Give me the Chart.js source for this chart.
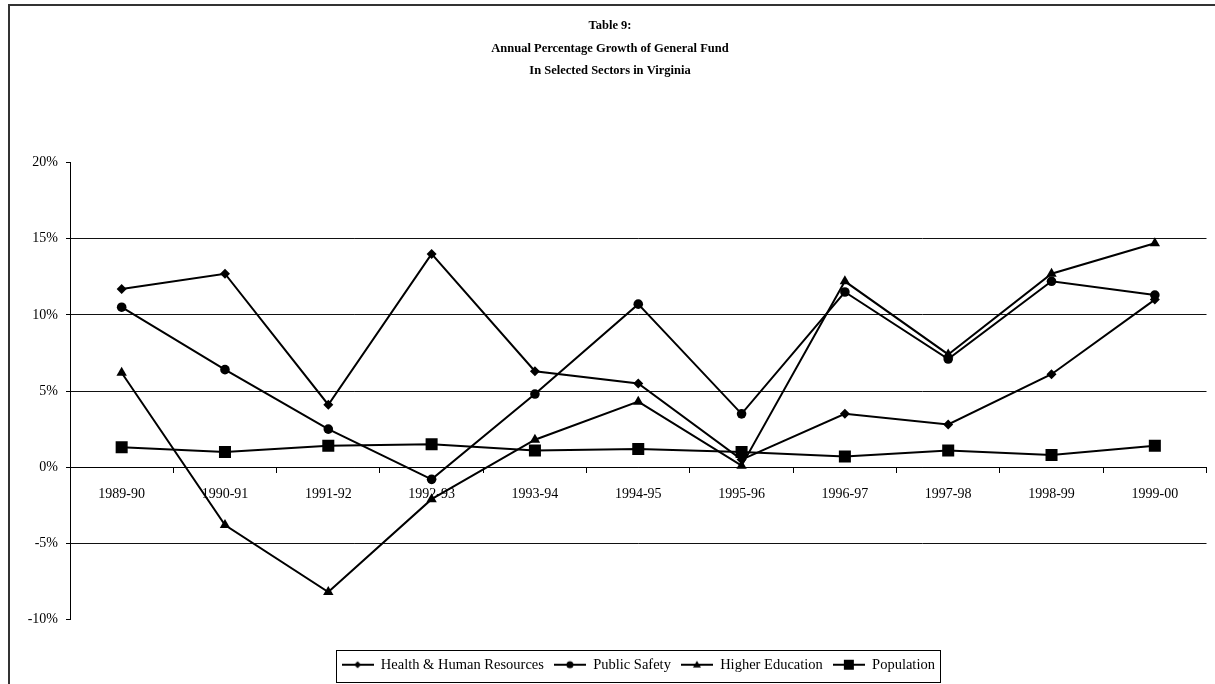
<!DOCTYPE html>
<html><head><meta charset="utf-8">
<script src="https://cdn.jsdelivr.net/npm/chart.js@4.4.0/dist/chart.umd.min.js"></script>
<style>html,body{margin:0;padding:0;background:#fff;} canvas{display:block;}</style>
</head><body>
<canvas id="c" width="1215" height="684"></canvas>
<script>
const categories = ['1989-90','1990-91','1991-92','1992-93','1993-94','1994-95','1995-96','1996-97','1997-98','1998-99','1999-00'];
const healthHuman = [11.7, 12.7, 4.1, 14.0, 6.3, 5.5, 0.5, 3.5, 2.8, 6.1, 11.0];
const publicSafety = [10.5, 6.4, 2.5, -0.8, 4.8, 10.7, 3.5, 11.5, 7.1, 12.2, 11.3];
const higherEducation = [6.2, -3.8, -8.2, -2.1, 1.8, 4.3, 0.1, 12.2, 7.4, 12.7, 14.7];
const population = [1.3, 1.0, 1.4, 1.5, 1.1, 1.2, 1.0, 0.7, 1.1, 0.8, 1.4];
const seriesNames = ['Health & Human Resources', 'Public Safety', 'Higher Education', 'Population'];
const titleLines = ['Table 9:', 'Annual Percentage Growth of General Fund', 'In Selected Sectors in Virginia'];
const yTicks = [-10, -5, 0, 5, 10, 15, 20];

const FONT = "'Liberation Serif', 'Times New Roman', serif";

function legendIcon(style, r) {
  const c = document.createElement('canvas');
  c.width = 32; c.height = 14;
  const g = c.getContext('2d');
  g.strokeStyle = '#000'; g.lineWidth = 2;
  g.beginPath(); g.moveTo(0, 7); g.lineTo(32, 7); g.stroke();
  g.fillStyle = '#000';
  const x = 16, y = 7;
  g.beginPath();
  if (style === 'rectRot') {
    g.moveTo(x, y - r); g.lineTo(x + r, y); g.lineTo(x, y + r); g.lineTo(x - r, y); g.closePath();
  } else if (style === 'circle') {
    g.arc(x, y, r, 0, Math.PI * 2);
  } else if (style === 'triangle') {
    g.moveTo(x, y - r); g.lineTo(x + r, y + r * 0.7); g.lineTo(x - r, y + r * 0.7); g.closePath();
  } else {
    g.rect(x - r, y - r, 2 * r, 2 * r);
  }
  g.fill();
  return c;
}

const styles = [
  {pointStyle: 'rectRot', radius: 5, icon: legendIcon('rectRot', 3.5)},
  {pointStyle: 'circle', radius: 4.8, icon: legendIcon('circle', 3.5)},
  {pointStyle: 'triangle', radius: 6, icon: legendIcon('triangle', 4)},
  {pointStyle: 'rect', radius: 8.5, icon: legendIcon('rect', 5)}
];
const values = [healthHuman, publicSafety, higherEducation, population];

const frame = {
  id: 'frame',
  beforeDraw(chart) {
    const ctx = chart.ctx;
    ctx.save();
    ctx.fillStyle = '#fff';
    ctx.fillRect(0, 0, chart.width, chart.height);
    ctx.strokeStyle = '#333';
    ctx.lineWidth = 2;
    ctx.beginPath();
    ctx.moveTo(9, chart.height);
    ctx.lineTo(9, 5);
    ctx.lineTo(chart.width, 5);
    ctx.stroke();
    ctx.restore();
  },
  afterDraw(chart) {
    const hb = chart.legend && chart.legend.legendHitBoxes;
    if (!hb || !hb.length) return;
    let l = Infinity, r = -Infinity, t = Infinity, b = -Infinity;
    hb.forEach(h => { l = Math.min(l, h.left); r = Math.max(r, h.left + h.width); t = Math.min(t, h.top); b = Math.max(b, h.top + h.height); });
    const ctx = chart.ctx;
    ctx.save();
    ctx.strokeStyle = '#000';
    ctx.lineWidth = 1;
    ctx.strokeRect(Math.round(l - 6) + 0.5, Math.round(t - 8) + 0.5, Math.round(r - l + 11), Math.round(b - t + 17));
    ctx.restore();
  }
};

new Chart(document.getElementById('c'), {
  type: 'line',
  data: {
    labels: categories,
    datasets: values.map((v, i) => ({
      label: seriesNames[i],
      data: v,
      borderColor: '#000',
      backgroundColor: '#000',
      borderWidth: 2,
      pointStyle: styles[i].pointStyle,
      pointRadius: styles[i].radius,
      pointBackgroundColor: '#000',
      pointBorderColor: '#000',
      pointBorderWidth: 0,
      tension: 0,
      fill: false
    }))
  },
  options: {
    responsive: false,
    animation: false,
    devicePixelRatio: 1,
    layout: {padding: {left: 10, right: 5, top: 0, bottom: 2}},
    plugins: {
      title: {
        display: true,
        text: titleLines,
        color: '#000',
        font: {family: FONT, size: 12.5, weight: 'bold', lineHeight: 1.8},
        padding: {top: 15, bottom: 80}
      },
      legend: {
        display: true,
        position: 'bottom',
        fullSize: false,
        align: 'center',
        labels: {
          usePointStyle: true,
          pointStyleWidth: 32,
          padding: 10,
          color: '#000',
          font: {family: FONT, size: 14.5},
          generateLabels: (chart) => chart.data.datasets.map((ds, i) => ({
            text: ds.label,
            pointStyle: styles[i].icon,
            fillStyle: '#000',
            strokeStyle: '#000',
            lineWidth: 0,
            hidden: false,
            datasetIndex: i
          }))
        }
      },
      tooltip: {enabled: false}
    },
    scales: {
      x: {
        type: 'category',
        position: {y: 0},
        offset: true,
        grid: {display: true, drawOnChartArea: false, offset: true, tickLength: 5, color: '#000', lineWidth: 1},
        border: {display: true, color: '#000', width: 1},
        ticks: {color: '#000', font: {family: FONT, size: 14}, padding: 14, maxRotation: 0, autoSkip: false}
      },
      y: {
        min: yTicks[0],
        max: yTicks[yTicks.length - 1],
        afterBuildTicks: (s) => { s.ticks = yTicks.map(v => ({value: v})); },
        ticks: {color: '#000', font: {family: FONT, size: 14}, padding: 8, callback: v => v + '%'},
        grid: {
          color: (c) => (c.tick && (c.tick.value === 20 || c.tick.value === -10)) ? 'rgba(0,0,0,0)' : '#111',
          tickColor: '#000', tickLength: 4, lineWidth: 1
        },
        border: {display: true, color: '#000', width: 1},
        afterFit: (s) => { s.width = 60; }
      },
      pad: {
        type: 'category',
        position: 'bottom',
        display: true,
        grid: {display: false},
        ticks: {display: false},
        border: {display: false},
        afterFit: (s) => { s.height = 28; }
      }
    }
  },
  plugins: [frame]
});
</script>
</body></html>
